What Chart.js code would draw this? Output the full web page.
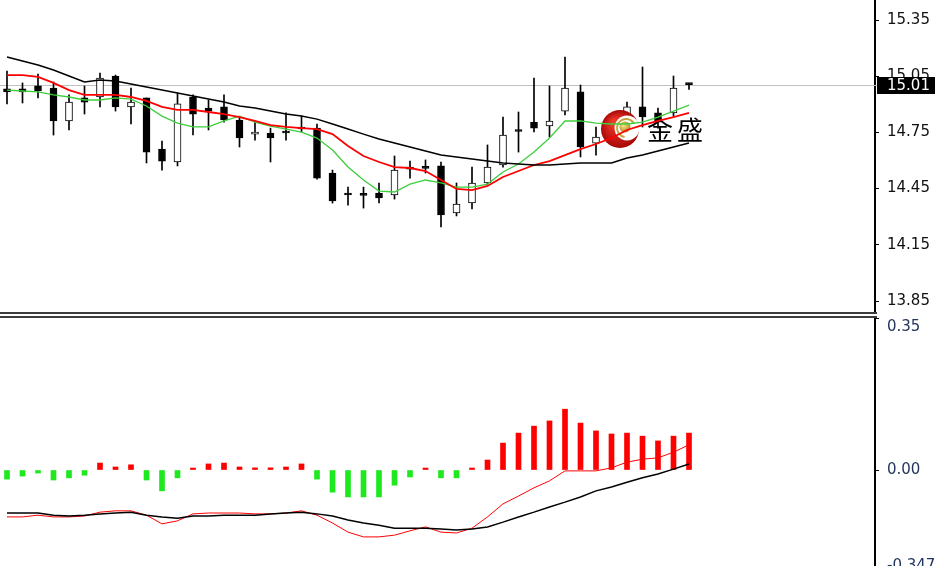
<!DOCTYPE html>
<html>
<head>
<meta charset="utf-8">
<script src="https://cdn.jsdelivr.net/npm/chart.js@4.4.0/dist/chart.umd.min.js"></script>
<style>
  html, body { margin: 0; padding: 0; background: #fff; overflow: hidden; }
  #wrap { position: relative; width: 938px; height: 566px; }
  #precio { position: absolute; left: 0; top: 0; }
  #macd { position: absolute; left: 0; top: 318px; }
  .sep { position: absolute; left: 0; width: 877px; height: 2px; background: #3c3c3c; }
</style>
</head>
<body>
<div id="wrap">
  <canvas id="precio" width="938" height="312"></canvas>
  <div class="sep" style="top:312px"></div>
  <div class="sep" style="top:316px"></div>
  <canvas id="macd" width="938" height="248"></canvas>
</div>
<script>
// velas
const opens  = [14.982, 14.982, 14.998, 14.987, 14.811, 14.934, 14.939, 15.051, 14.886, 14.934,
                14.661, 14.592, 14.939, 14.880, 14.886, 14.816, 14.741, 14.747, 14.757, 14.779,
                14.773, 14.533, 14.421, 14.416, 14.426, 14.416, 14.565, 14.560, 14.571, 14.320,
                14.373, 14.480, 14.576, 14.757, 14.805, 14.784, 14.864, 14.966, 14.693, 14.725,
                14.805, 14.886, 14.854, 14.854, 15.010];
const highs  = [15.078, 15.014, 15.062, 15.019, 14.950, 14.998, 15.067, 15.056, 14.987, 14.934,
                14.704, 14.960, 14.950, 14.923, 14.950, 14.832, 14.805, 14.773, 14.854, 14.837,
                14.795, 14.549, 14.458, 14.458, 14.480, 14.624, 14.597, 14.603, 14.592, 14.480,
                14.565, 14.683, 14.832, 14.859, 15.040, 14.998, 15.152, 15.003, 14.779, 14.827,
                14.912, 15.099, 14.880, 15.051, 15.012];
const lows   = [14.902, 14.907, 14.934, 14.736, 14.763, 14.848, 14.886, 14.864, 14.795, 14.587,
                14.549, 14.571, 14.736, 14.763, 14.805, 14.672, 14.709, 14.592, 14.709, 14.752,
                14.501, 14.373, 14.362, 14.346, 14.373, 14.394, 14.506, 14.533, 14.245, 14.304,
                14.341, 14.474, 14.565, 14.645, 14.752, 14.725, 14.843, 14.619, 14.629, 14.683,
                14.709, 14.779, 14.773, 14.837, 14.980];
const closes = [14.966, 14.966, 14.971, 14.811, 14.912, 14.912, 15.040, 14.886, 14.912, 14.645,
                14.597, 14.902, 14.848, 14.864, 14.816, 14.720, 14.752, 14.720, 14.747, 14.768,
                14.506, 14.384, 14.416, 14.414, 14.400, 14.549, 14.554, 14.558, 14.309, 14.368,
                14.480, 14.565, 14.736, 14.755, 14.773, 14.811, 14.987, 14.672, 14.725, 14.789,
                14.886, 14.832, 14.805, 14.987, 15.005];

// medias moviles
const maLenta = [15.152, 15.131, 15.110, 15.083, 15.051, 15.019, 15.030, 15.024, 15.008, 14.992,
                 14.976, 14.960, 14.944, 14.928, 14.912, 14.891, 14.880, 14.864, 14.848, 14.837,
                 14.821, 14.795, 14.768, 14.741, 14.715, 14.693, 14.672, 14.651, 14.629, 14.619,
                 14.608, 14.597, 14.587, 14.581, 14.576, 14.576, 14.581, 14.587, 14.587, 14.587,
                 14.613, 14.629, 14.651, 14.672, 14.693];
const maMedia = [15.056, 15.056, 15.046, 15.014, 14.976, 14.950, 14.950, 14.950, 14.939, 14.918,
                 14.886, 14.870, 14.870, 14.859, 14.848, 14.832, 14.811, 14.789, 14.779, 14.773,
                 14.768, 14.741, 14.677, 14.624, 14.592, 14.565, 14.560, 14.544, 14.496, 14.448,
                 14.442, 14.464, 14.512, 14.544, 14.576, 14.597, 14.629, 14.661, 14.688, 14.720,
                 14.763, 14.789, 14.811, 14.832, 14.854];
const maRapida = [14.976, 14.971, 14.966, 14.950, 14.939, 14.923, 14.923, 14.934, 14.928, 14.891,
                  14.837, 14.800, 14.779, 14.779, 14.811, 14.837, 14.805, 14.784, 14.768, 14.752,
                  14.720, 14.656, 14.565, 14.496, 14.437, 14.432, 14.474, 14.496, 14.480, 14.458,
                  14.458, 14.474, 14.539, 14.581, 14.645, 14.720, 14.811, 14.811, 14.800, 14.795,
                  14.795, 14.805, 14.832, 14.864, 14.896];

// MACD
const histograma = [-0.021, -0.014, -0.007, -0.023, -0.018, -0.012, 0.016, 0.007, 0.012, -0.023,
                    -0.048, -0.018, 0.002, 0.014, 0.016, 0.007, 0.005, 0.005, 0.007, 0.014,
                    -0.021, -0.051, -0.062, -0.062, -0.062, -0.035, -0.016, 0.002, -0.018, -0.018,
                    0.002, 0.023, 0.062, 0.085, 0.101, 0.113, 0.140, 0.108, 0.090, 0.083,
                    0.085, 0.078, 0.067, 0.078, 0.085];
const lineaMacd = [-0.108, -0.108, -0.104, -0.108, -0.108, -0.106, -0.097, -0.094, -0.094, -0.104,
                   -0.124, -0.117, -0.101, -0.099, -0.099, -0.099, -0.101, -0.101, -0.099, -0.094,
                   -0.104, -0.122, -0.143, -0.154, -0.154, -0.150, -0.140, -0.131, -0.143, -0.145,
                   -0.134, -0.108, -0.078, -0.060, -0.041, -0.025, -0.002, -0.002, -0.002, 0.005,
                   0.018, 0.025, 0.028, 0.041, 0.058];
const senal = [-0.099, -0.099, -0.099, -0.104, -0.106, -0.104, -0.101, -0.099, -0.097, -0.104,
               -0.108, -0.111, -0.106, -0.106, -0.104, -0.104, -0.104, -0.101, -0.099, -0.097,
               -0.101, -0.106, -0.115, -0.122, -0.127, -0.134, -0.134, -0.134, -0.136, -0.138,
               -0.136, -0.131, -0.120, -0.108, -0.097, -0.085, -0.074, -0.062, -0.048, -0.039,
               -0.028, -0.018, -0.009, 0.002, 0.014];

// ejes
const ticksPrecio = [13.85, 14.15, 14.45, 14.75, 15.05, 15.35];
const macdMin = -0.221;
const macdMax = 0.35;
const ticksMacd = [macdMin, 0, 0.35];
const etiquetasMacd = ['-0.347', '0.00', '0.35'];
const bid = 15.005;
const etiquetaBid = '15.01';

Chart.defaults.font.family = 'DejaVu Sans';

const idx = closes.map((c, i) => i);
const alcista = closes.map((c, i) => c >= opens[i]);
const xMin = -0.4516, xMax = 56.0;

function ejeDerecho(extra) {
    return Object.assign({
        position: 'right',
        afterFit: function (s) { s.width = 63; s.paddingTop = 0; s.paddingBottom = 0; },
        grid: { drawOnChartArea: false, drawTicks: true, tickLength: 4, color: '#000', tickWidth: 1 },
        border: { display: true, color: '#000', width: 2 }
    }, extra);
}

const logo = {
    id: 'logo',
    beforeDatasetsDraw(chart) {
        const ctx = chart.ctx;
        const y = Math.round(chart.scales.y.getPixelForValue(bid)) + 0.5;
        ctx.save();
        ctx.strokeStyle = '#c0c0c0';
        ctx.lineWidth = 1;
        ctx.beginPath();
        ctx.moveTo(chart.chartArea.left, y);
        ctx.lineTo(chart.chartArea.right + 3, y);
        ctx.stroke();
        ctx.restore();
    },
    afterDatasetDraw(chart, args) {
        if (args.index !== 3) return;
        const ctx = chart.ctx;
        const cx = 620, cy = 129;
        ctx.save();
        let g = ctx.createRadialGradient(cx - 6, cy - 7, 2, cx, cy, 19);
        g.addColorStop(0, '#f23a2a');
        g.addColorStop(1, '#a80808');
        ctx.fillStyle = g;
        ctx.beginPath(); ctx.arc(cx, cy, 19, 0, 2 * Math.PI); ctx.fill();
        ctx.fillStyle = '#fff';
        ctx.beginPath(); ctx.arc(cx + 7, cy - 1, 12.5, 0, 2 * Math.PI); ctx.fill();
        ctx.strokeStyle = '#c9a43c';
        ctx.lineWidth = 2;
        ctx.beginPath(); ctx.arc(cx + 6, cy - 1, 9, 0.55 * Math.PI, 1.85 * Math.PI); ctx.stroke();
        g = ctx.createRadialGradient(cx + 3, cy - 4, 1, cx + 5, cy - 2, 6);
        g.addColorStop(0, '#f5dc80');
        g.addColorStop(1, '#b08a28');
        ctx.fillStyle = g;
        ctx.beginPath(); ctx.arc(cx + 5, cy - 2, 5.5, 0, 2 * Math.PI); ctx.fill();
        ctx.fillStyle = '#000';
        ctx.font = '26px "Noto Sans CJK SC"';
        ctx.textBaseline = 'middle';
        ctx.fillText('金', 647, 130);
        ctx.fillText('盛', 677, 130);
        ctx.restore();
    },
    afterDraw(chart) {
        const ctx = chart.ctx;
        const y = Math.round(chart.scales.y.getPixelForValue(bid));
        ctx.save();
        ctx.fillStyle = '#000';
        ctx.fillRect(877, y - 8, 58, 17);
        ctx.fillStyle = '#fff';
        ctx.font = '15px "DejaVu Sans"';
        ctx.textBaseline = 'middle';
        ctx.fillText(etiquetaBid, 887, y + 1);
        ctx.restore();
    }
};

new Chart(document.getElementById('precio'), {
    type: 'bar',
    data: {
        datasets: [
            { type: 'line', data: idx.map(i => ({ x: i, y: maLenta[i] })), borderColor: '#000', borderWidth: 1.5, pointRadius: 0, order: 0 },
            { type: 'line', data: idx.map(i => ({ x: i, y: maMedia[i] })), borderColor: '#ff0000', borderWidth: 1.8, pointRadius: 0, order: 0 },
            { type: 'line', data: idx.map(i => ({ x: i, y: maRapida[i] })), borderColor: '#3ccf3c', borderWidth: 1.3, pointRadius: 0, order: 0 },
            {
                data: idx.map(i => ({ x: i, y: [opens[i], closes[i]] })),
                backgroundColor: alcista.map(b => b ? '#fff' : '#000'),
                borderColor: '#000', borderWidth: 1, borderSkipped: false,
                barThickness: 7, minBarLength: 2, grouped: false, order: 1
            },
            {
                data: idx.map(i => ({ x: i, y: [lows[i], highs[i]] })),
                backgroundColor: '#000', barThickness: 1, grouped: false, order: 2
            }
        ]
    },
    options: {
        responsive: false,
        animation: false,
        layout: { padding: 0 },
        plugins: { legend: { display: false }, tooltip: { enabled: false } },
        scales: {
            x: { type: 'linear', min: xMin, max: xMax, offset: false, display: false },
            y: ejeDerecho({
                min: 13.7913, max: 15.4568,
                afterBuildTicks: s => { s.ticks = ticksPrecio.map(v => ({ value: v })); },
                ticks: { color: '#111', font: { size: 15 }, padding: 8, autoSkip: false, callback: v => v.toFixed(2) }
            })
        }
    },
    plugins: [logo]
});

new Chart(document.getElementById('macd'), {
    type: 'bar',
    data: {
        datasets: [
            { type: 'line', data: idx.map(i => ({ x: i, y: senal[i] })), borderColor: '#000', borderWidth: 1.5, pointRadius: 0, order: 0 },
            { type: 'line', data: idx.map(i => ({ x: i, y: lineaMacd[i] })), borderColor: '#ff0000', borderWidth: 1, pointRadius: 0, order: 0 },
            {
                data: idx.map(i => ({ x: i, y: histograma[i] })),
                backgroundColor: histograma.map(v => v >= 0 ? '#ff0000' : '#1ee81e'),
                barThickness: 5, minBarLength: 2, grouped: false, order: 1
            }
        ]
    },
    options: {
        responsive: false,
        animation: false,
        layout: { padding: 0 },
        plugins: { legend: { display: false }, tooltip: { enabled: false } },
        scales: {
            x: { type: 'linear', min: xMin, max: xMax, offset: false, display: false },
            y: ejeDerecho({
                min: macdMin, max: macdMax,
                afterBuildTicks: s => { s.ticks = ticksMacd.map(v => ({ value: v })); },
                ticks: {
                    color: '#24365e', font: { size: 15 }, padding: 8, autoSkip: false,
                    callback: (v, i) => i === etiquetasMacd.length - 1 ? ['', etiquetasMacd[i]] : etiquetasMacd[i]
                }
            })
        }
    }
});
</script>
</body>
</html>
